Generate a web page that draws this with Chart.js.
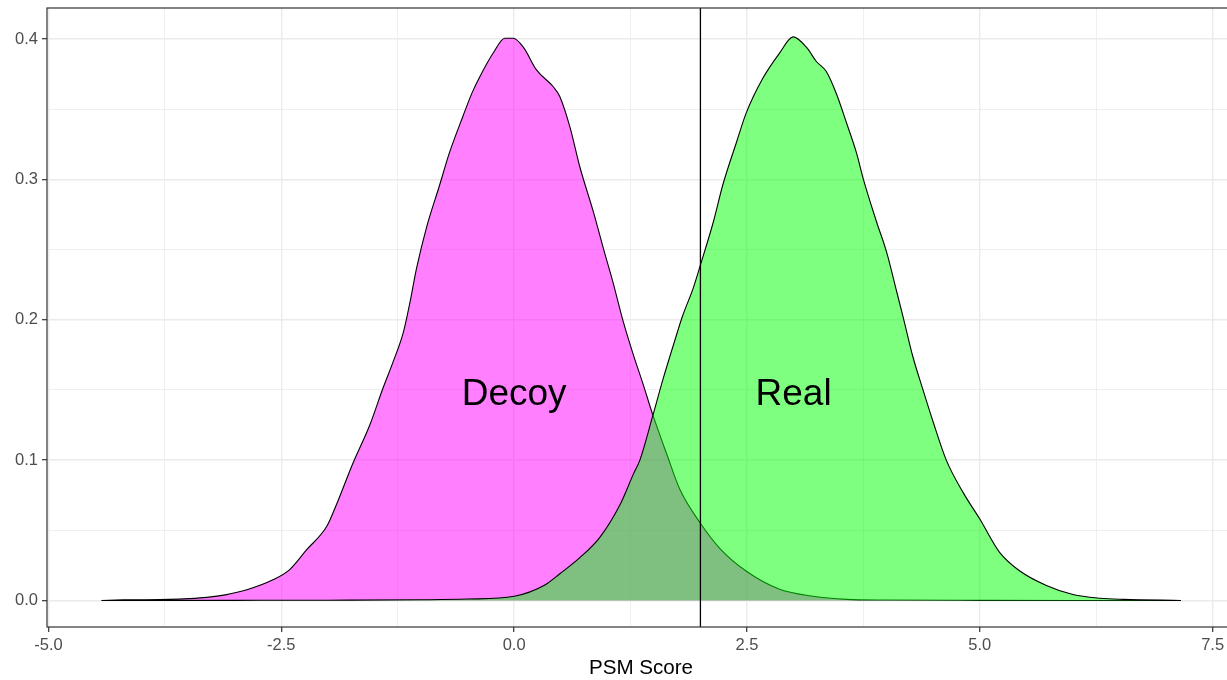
<!DOCTYPE html>
<html>
<head>
<meta charset="utf-8">
<script src="https://cdn.jsdelivr.net/npm/chart.js@4.4.1/dist/chart.umd.min.js"></script>
<style>
  html, body { margin: 0; padding: 0; background: #fff; overflow: hidden; }
  #wrap { width: 1240px; height: 680px; }
</style>
</head>
<body>
<div id="wrap"><canvas id="chart" width="1240" height="680"></canvas></div>
<script>
// density of the PSM scores
const decoyX = [-4.43, -4.2, -4.0, -3.7, -3.5, -3.3, -3.1, -2.87, -2.59, -2.41, -2.23, -2.01, -1.91, -1.73,
  -1.55, -1.41, -1.30, -1.19, -1.12, -1.05, -0.94, -0.80, -0.70, -0.55, -0.45, -0.37, -0.225, -0.10, -0.01,
  0.10, 0.24, 0.42, 0.49, 0.60, 0.705, 0.85, 0.97, 1.06, 1.17, 1.28, 1.385, 1.49, 1.64, 1.78, 2.0, 2.21,
  2.49, 2.85, 3.21, 3.57, 4.0, 5.0, 6.0, 7.16];
const decoyY = [0.0, 0.0004, 0.0005, 0.0008, 0.0013, 0.0022, 0.0040, 0.0076, 0.0147, 0.022, 0.036, 0.053, 0.068, 0.098,
  0.125, 0.151, 0.170, 0.191, 0.212, 0.236, 0.266, 0.296, 0.318, 0.345, 0.362, 0.373, 0.390, 0.4005, 0.4005,
  0.394, 0.378, 0.366, 0.359, 0.337, 0.309, 0.277, 0.248, 0.227, 0.199, 0.175, 0.154, 0.132, 0.104, 0.079, 0.055, 0.037,
  0.021, 0.008, 0.003, 0.0008, 0.0003, 0.0001, 0.0, 0.0];

const realX = [-4.43, -3.0, -2.0, -1.0, -0.5, 0.0, 0.33, 0.49, 0.705, 0.92, 1.135, 1.28, 1.35, 1.49, 1.60, 1.71,
  1.81, 1.92, 2.0, 2.14, 2.24, 2.39, 2.49, 2.67, 2.85, 2.995, 3.14, 3.245, 3.35, 3.46, 3.57, 3.675, 3.75,
  3.89, 4.0, 4.10, 4.18, 4.28, 4.39, 4.50, 4.64, 4.82, 5.0, 5.21, 5.43, 5.715, 6.0, 6.29, 6.54, 7.16];
const realY = [0.0, 0.0001, 0.0002, 0.0005, 0.0010, 0.003, 0.011, 0.019, 0.0305, 0.045, 0.068, 0.090, 0.100, 0.132, 0.158, 0.182,
  0.203, 0.222, 0.239, 0.270, 0.296, 0.327, 0.347, 0.372, 0.390, 0.4015, 0.394, 0.384, 0.377, 0.361, 0.340, 0.319, 0.300,
  0.270, 0.248, 0.222, 0.201, 0.174, 0.150, 0.127, 0.100, 0.077, 0.058, 0.0345, 0.021, 0.0107, 0.0042, 0.0016, 0.0008, 0.0];

const cutoff = 2;

const xMajor = [-5, -2.5, 0, 2.5, 5, 7.5];
const xMinor = [-3.75, -1.25, 1.25, 3.75, 6.25];
const yMajor = [0, 0.1, 0.2, 0.3, 0.4];
const yMinor = [0.05, 0.15, 0.25, 0.35];

const textLabels = ['Decoy', 'Real'];
const textX = [0, 3];
const textY = [0.139, 0.139];

const X_MIN = -5.016, X_MAX = 7.74;
const Y_MIN = -0.0189, Y_MAX = 0.4221;

const FONT = "'Liberation Sans', Arial, sans-serif";

const toPoints = (xs, ys) => xs.map((x, i) => ({ x, y: ys[i] }));
const isMajor = (arr, v) => arr.some(m => Math.abs(m - v) < 1e-9);

// panel border on top, like theme_bw
const borderPlugin = {
  id: 'panelBorder',
  afterDraw(chart) {
    const { ctx, chartArea: a } = chart;
    ctx.save();
    ctx.strokeStyle = '#333333';
    ctx.lineWidth = 1.2;
    ctx.strokeRect(a.left, a.top, a.right - a.left, a.bottom - a.top);
    ctx.restore();
  }
};

const textPlugin = {
  id: 'groupText',
  afterDatasetsDraw(chart) {
    const { ctx, scales: { x, y } } = chart;
    ctx.save();
    ctx.font = '37px ' + FONT;
    ctx.fillStyle = '#000';
    ctx.textAlign = 'center';
    ctx.textBaseline = 'alphabetic';
    textLabels.forEach((t, i) => {
      ctx.fillText(t, x.getPixelForValue(textX[i]), y.getPixelForValue(textY[i]));
    });
    ctx.restore();
  }
};

function zeroPad(scale) {
  scale.paddingTop = 0; scale.paddingBottom = 0;
  scale.paddingLeft = 0; scale.paddingRight = 0;
}

new Chart(document.getElementById('chart'), {
  type: 'line',
  data: {
    datasets: [
      {
        label: 'cutoff',
        data: [{ x: cutoff, y: Y_MIN }, { x: cutoff, y: Y_MAX }],
        borderColor: '#000',
        borderWidth: 1.3,
        pointRadius: 0,
        fill: false,
        order: 0,
      },
      {
        label: 'Real',
        data: toPoints(realX, realY),
        borderColor: '#000',
        borderWidth: 1.1,
        backgroundColor: 'rgba(0,255,0,0.5)',
        fill: 'origin',
        pointRadius: 0,
        cubicInterpolationMode: 'monotone',
        order: 1,
      },
      {
        label: 'Decoy',
        data: toPoints(decoyX, decoyY),
        borderColor: '#000',
        borderWidth: 1.1,
        backgroundColor: 'rgba(255,0,255,0.5)',
        fill: 'origin',
        pointRadius: 0,
        cubicInterpolationMode: 'monotone',
        order: 2,
      },
    ]
  },
  options: {
    responsive: false,
    animation: false,
    devicePixelRatio: 1,
    layout: { padding: { top: 8, right: 5, left: 0, bottom: 0 } },
    plugins: {
      legend: { display: false },
      tooltip: { enabled: false },
    },
    scales: {
      x: {
        type: 'linear',
        min: X_MIN,
        max: X_MAX,
        afterBuildTicks: s => { s.ticks = [...xMajor, ...xMinor].sort((a, b) => a - b).map(v => ({ value: v })); },
        afterFit: s => { s.height = 53; zeroPad(s); },
        border: { display: false },
        grid: {
          color: '#ebebeb',
          lineWidth: c => isMajor(xMajor, c.tick.value) ? 1.4 : 0.8,
          tickColor: c => isMajor(xMajor, c.tick.value) ? '#333333' : 'rgba(0,0,0,0)',
          tickWidth: 1.2,
          tickLength: 5,
        },
        ticks: {
          autoSkip: false,
          maxRotation: 0,
          padding: 4,
          color: '#4d4d4d',
          font: { family: FONT, size: 16.5 },
          callback: v => isMajor(xMajor, v) ? v.toFixed(1) : '',
        },
        title: {
          display: true,
          text: 'PSM Score',
          color: '#000',
          font: { family: FONT, size: 20.6, lineHeight: 1 },
          padding: { top: 0, bottom: 1 },
        },
      },
      y: {
        type: 'linear',
        min: Y_MIN,
        max: Y_MAX,
        afterBuildTicks: s => { s.ticks = [...yMajor, ...yMinor].sort((a, b) => a - b).map(v => ({ value: v })); },
        afterFit: s => { s.width = 47; zeroPad(s); },
        border: { display: false },
        grid: {
          color: '#ebebeb',
          lineWidth: c => isMajor(yMajor, c.tick.value) ? 1.4 : 0.8,
          tickColor: c => isMajor(yMajor, c.tick.value) ? '#333333' : 'rgba(0,0,0,0)',
          tickWidth: 1.2,
          tickLength: 5,
        },
        ticks: {
          autoSkip: false,
          padding: 4,
          color: '#4d4d4d',
          font: { family: FONT, size: 16.5 },
          callback: v => isMajor(yMajor, v) ? v.toFixed(1) : '',
        },
      },
    },
  },
  plugins: [textPlugin, borderPlugin],
});
</script>
</body>
</html>
